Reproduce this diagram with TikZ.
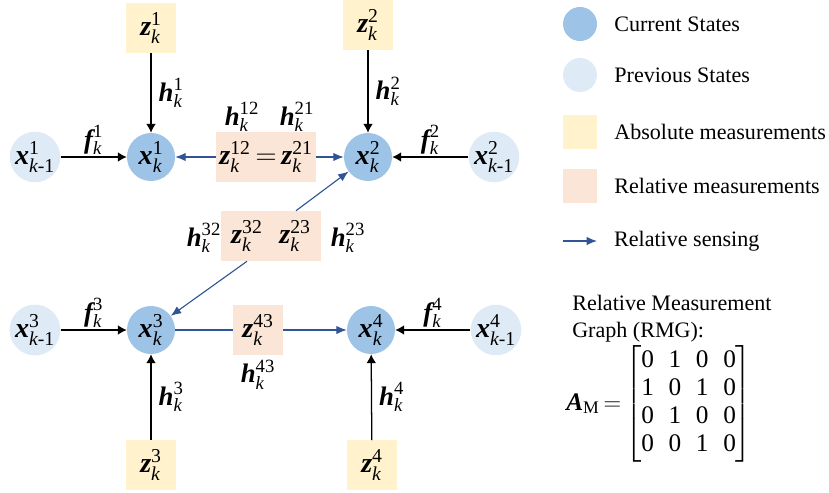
\documentclass[tikz,border=0pt]{standalone}
\usepackage{amsmath}
\usepackage{fontspec}
\setmainfont{Liberation Serif}
\usetikzlibrary{positioning,arrows.meta}
\definecolor{RmgCur}{RGB}{157,195,230}
\definecolor{RmgPrev}{RGB}{222,235,247}
\definecolor{RmgAbs}{RGB}{255,242,204}
\definecolor{RmgRel}{RGB}{251,229,214}
\definecolor{RmgBlue}{RGB}{47,85,151}
\newcommand{\vsym}[3]{\text{\bfseries\itshape #1}^{\text{#2}}_{\text{\itshape #3}}}
\newcommand{\kprev}{k\upshape -1}
\newcommand{\mrow}[4]{\text{#1}&\text{#2}&\text{#3}&\text{#4}}
\tikzset{
  rmg node/.style={inner sep=0pt, font=\fontsize{20}{22}\selectfont},
  rmg cur/.style={rmg node, circle, fill=RmgCur, minimum size=1.2cm},
  rmg prev/.style={rmg node, circle, fill=RmgPrev, minimum size=1.2cm},
  rmg abs/.style={rmg node, fill=RmgAbs, minimum width=1.225cm, minimum height=1.225cm},
  rmg rel/.style={rmg node, fill=RmgRel, minimum height=1.25cm},
  rmg arrow/.style={-{Latex[length=2.2mm,width=2.4mm]}, line width=0.9pt, black},
  rmg sense/.style={-{Latex[length=2.6mm,width=2.1mm]}, line width=0.8pt, RmgBlue},
  rmg label/.style={font=\fontsize{19}{21}\selectfont, inner sep=1pt},
  rmg text/.style={font=\fontsize{15.7}{19.4}\selectfont, inner sep=0pt, anchor=west}
}

\begin{document}
\begin{tikzpicture}[x=0.025cm, y=-0.025cm]
\useasboundingbox (0,0) rectangle (829,493);
% states
\node[rmg prev] (x1p) at (35,157) {$\vsym{x}{1}{\kprev}$};
\node[rmg cur] (x1) at (151,157) {$\vsym{x}{1}{k}$};
\node[rmg cur] (x2) at (368,157) {$\vsym{x}{2}{k}$};
\node[rmg prev] (x2p) at (494,157) {$\vsym{x}{2}{\kprev}$};
\node[rmg prev] (x3p) at (35,330) {$\vsym{x}{3}{\kprev}$};
\node[rmg cur] (x3) at (151,330) {$\vsym{x}{3}{k}$};
\node[rmg cur] (x4) at (371,330) {$\vsym{x}{4}{k}$};
\node[rmg prev] (x4p) at (496,330) {$\vsym{x}{4}{\kprev}$};
% measurements
\node[rmg abs] (z1) at (151,28) {$\vsym{z}{1}{k}$};
\node[rmg abs] (z2) at (368,25) {$\vsym{z}{2}{k}$};
\node[rmg abs] (z3) at (151,465) {$\vsym{z}{3}{k}$};
\node[rmg abs] (z4) at (372,465) {$\vsym{z}{4}{k}$};
\node[rmg rel, minimum width=2.475cm] (z12) at (266,157) {$\vsym{z}{12}{k}\,{=}\,\vsym{z}{21}{k}$};
\node[rmg rel, minimum width=2.475cm] (z32) at (271,236) {$\vsym{z}{32}{k}\hspace{0.6em}\vsym{z}{23}{k}$};
\node[rmg rel, minimum width=1.25cm] (z43) at (258,330) {$\vsym{z}{43}{k}$};
% relative models
\node[rmg label] (h12) at (242,117) {$\vsym{h}{12}{k}$};
\node[rmg label] (h21) at (297,117) {$\vsym{h}{21}{k}$};
\node[rmg label] (h32) at (204,238) {$\vsym{h}{32}{k}$};
\node[rmg label] (h23) at (348,238) {$\vsym{h}{23}{k}$};
\node[rmg label, below=2pt of z43] (h43) {$\vsym{h}{43}{k}$};
% dynamics and absolute sensing
\draw[rmg arrow] (x1p) -- node[rmg label, above] {$\vsym{f}{1}{k}$} (x1);
\draw[rmg arrow] (x2p) -- node[rmg label, above] {$\vsym{f}{2}{k}$} (x2);
\draw[rmg arrow] (x3p) -- node[rmg label, above] {$\vsym{f}{3}{k}$} (x3);
\draw[rmg arrow] (x4p) -- node[rmg label, above] {$\vsym{f}{4}{k}$} (x4);
\draw[rmg arrow] (z1) -- node[rmg label, right=4pt] {$\vsym{h}{1}{k}$} (x1);
\draw[rmg arrow] (z2) -- node[rmg label, right=4pt] {$\vsym{h}{2}{k}$} (x2);
\draw[rmg arrow] (z3) -- node[rmg label, right=4pt] {$\vsym{h}{3}{k}$} (x3);
\draw[rmg arrow] (z4) -- node[rmg label, right=4pt] {$\vsym{h}{4}{k}$} (x4);
% relative sensing
\draw[rmg sense] (z12) -- (x1);
\draw[rmg sense] (z12) -- (x2);
\draw[rmg sense] ([xshift=0.625cm]z32.north) -- (x2);
\draw[rmg sense] ([xshift=-0.6cm]z32.south) -- (x3);
\draw[RmgBlue, line width=0.8pt] (x3) -- (z43);
\draw[rmg sense] (z43) -- (x4);
% legend
\node[rmg cur, minimum size=0.85cm] (lgcur) at (580,24) {};
\node[rmg prev, minimum size=0.85cm] (lgprev) at (580,75) {};
\node[rmg abs, minimum size=0.85cm] (lgabs) at (580,132) {};
\node[rmg rel, minimum width=0.85cm, minimum height=0.85cm] (lgrel) at (580,186) {};
\coordinate (lgs0) at (563,241);
\coordinate (lgs1) at (597,241);
\draw[rmg sense] (lgs0) -- (lgs1);
\node[rmg text, right=0.42cm of lgcur] {Current States};
\node[rmg text, right=0.42cm of lgprev] {Previous States};
\node[rmg text, right=0.42cm of lgabs] {Absolute measurements};
\node[rmg text, right=0.42cm of lgrel] {Relative measurements};
\node[rmg text, right=0.42cm of lgs1] {Relative sensing};
% adjacency matrix
\node[rmg text, align=left, anchor=north west] (rmgtitle) at (572,295) {Relative Measurement\\Graph (RMG):};
\node[rmg text, font=\fontsize{18}{19.7}\selectfont] (amat) at (566,404) {\setlength{\arraycolsep}{5.2pt}$\text{\bfseries\itshape A}_{\text{M}}\,{=}\begin{bmatrix}\mrow0100\\\mrow1010\\\mrow0100\\\mrow0010\end{bmatrix}$};
\end{tikzpicture}
\end{document}
